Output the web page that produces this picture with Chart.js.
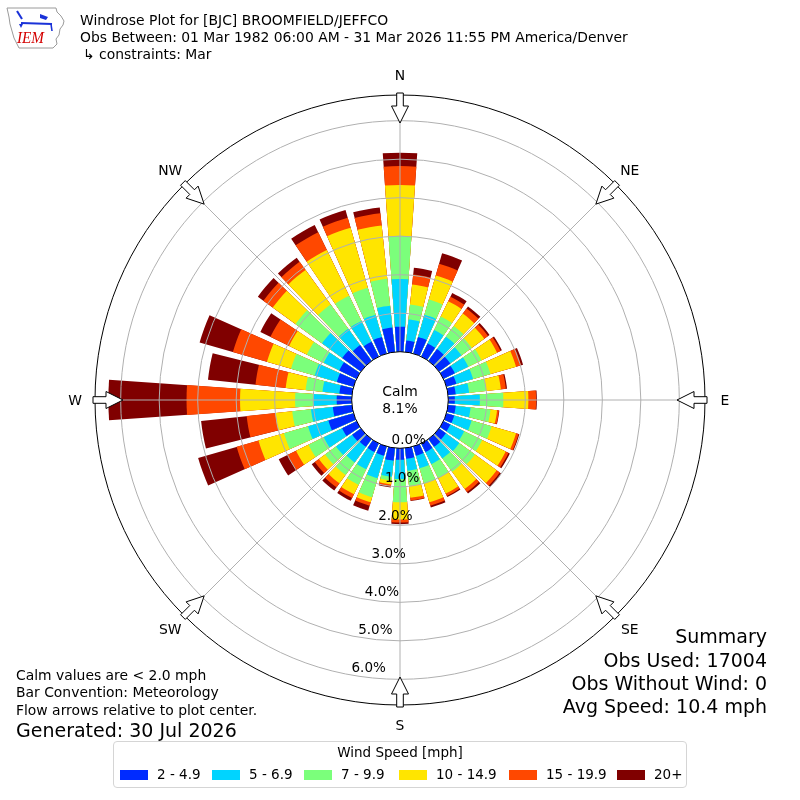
<!DOCTYPE html>
<html>
<head>
<meta charset="utf-8">
<script src="https://cdn.jsdelivr.net/npm/chart.js@4.4.1/dist/chart.umd.min.js"></script>
<style>
html,body{margin:0;padding:0;background:#fff;}
#wrap{position:relative;width:800px;height:800px;overflow:hidden;font-family:"DejaVu Sans",sans-serif;color:#000;}
#wrap canvas{position:absolute;left:0;top:0;}
.t{position:absolute;white-space:nowrap;line-height:1.164;}
.s14{font-size:13.9px;}
.s13{font-size:13.5px;}
.s19{font-size:19px;}
.r{text-align:right;}
#legend{position:absolute;left:113px;top:741px;width:572px;height:45px;border:1px solid #d5d5d5;border-radius:4px;}
.sw{position:absolute;width:28px;height:10px;}
</style>
</head>
<body>
<div id="wrap">
<canvas id="c" width="800" height="800"></canvas>

<svg style="position:absolute;left:0;top:0" width="70" height="55" viewBox="0 0 70 55">
  <path d="M7,8 L56,8 L57,12 L61,16 L64,21 L63,25 L60,29 L59,35 L56,39 L57,44 L53,48 L19,48 L17,44 L14,38 L12,31 L10,24 L9,17 Z" fill="none" stroke="#9a9a9a" stroke-width="1"/>
  <g stroke="#1a32d8" fill="#1a32d8">
    <line x1="21" y1="23" x2="52" y2="24" stroke-width="2.2"/>
    <line x1="17" y1="11" x2="22" y2="19" stroke-width="2"/>
    <polygon points="40,14 48,17 46,20 40,18" stroke="none"/>
    <polygon points="19,24 23,24 21,28" stroke="none"/>
    <line x1="51" y1="24" x2="52" y2="31" stroke-width="1.6"/>
  </g>
  <text x="17" y="43" font-family="Liberation Serif, serif" font-style="italic" font-size="17" fill="#d40000" textLength="27" lengthAdjust="spacingAndGlyphs">IEM</text>
</svg>

<div class="t s14" style="left:80px;top:12px;">Windrose Plot for [BJC] BROOMFIELD/JEFFCO</div>
<div class="t s14" style="left:80px;top:28.6px;">Obs Between: 01 Mar 1982 06:00 AM - 31 Mar 2026 11:55 PM America/Denver</div>
<div class="t s14" style="left:83px;top:45.6px;">↳ constraints: Mar</div>

<div class="t s14" style="left:16px;top:667px;">Calm values are &lt; 2.0 mph</div>
<div class="t s14" style="left:16px;top:684px;">Bar Convention: Meteorology</div>
<div class="t s14" style="left:16px;top:702px;">Flow arrows relative to plot center.</div>
<div class="t s19" style="left:16px;top:718.8px;">Generated: 30 Jul 2026</div>

<div class="t s19 r" style="right:33px;top:624.8px;">Summary</div>
<div class="t s19 r" style="right:33px;top:648.8px;">Obs Used: 17004</div>
<div class="t s19 r" style="right:33px;top:671.8px;">Obs Without Wind: 0</div>
<div class="t s19 r" style="right:33px;top:694.8px;">Avg Speed: 10.4 mph</div>

<div id="legend"></div>
</div>

<script>
// ---------------- data ----------------
const directions = [0,10,20,30,40,50,60,70,80,90,100,110,120,130,140,150,160,170,
                    180,190,200,210,220,230,240,250,260,270,280,290,300,310,320,330,340,350];
const speedBins = ['2 - 4.9','5 - 6.9','7 - 9.9','10 - 14.9','15 - 19.9','20+'];
// frequency (%) per direction for each speed bin
const bin2to5 = [0.65,0.30,0.45,0.38,0.38,0.36,0.33,0.27,0.20,0.17,0.20,0.21,0.20,0.22,0.25,0.25,0.25,0.28,
                 0.30,0.33,0.25,0.25,0.25,0.28,0.42,0.68,0.50,0.39,0.33,0.45,0.50,0.60,0.51,0.43,0.45,0.64];
const bin5to7 = [1.24,0.55,0.60,0.39,0.40,0.36,0.39,0.45,0.35,0.65,0.39,0.47,0.40,0.43,0.37,0.35,0.34,0.31,
                 0.50,0.42,0.61,0.50,0.50,0.52,0.53,0.55,0.57,0.61,0.44,0.60,0.45,0.65,0.52,0.60,0.60,0.57];
const bin7to10 = [1.12,0.39,0.41,0.39,0.34,0.33,0.38,0.47,0.44,0.61,0.52,0.54,0.52,0.50,0.43,0.40,0.41,0.40,
                  0.60,0.10,0.51,0.45,0.40,0.35,0.44,0.65,0.49,0.47,0.44,0.64,0.49,0.85,0.78,0.73,0.73,0.70];
const bin10to15 = [1.32,0.52,0.65,0.44,0.40,0.40,0.45,0.69,0.39,0.65,0.17,0.66,0.68,0.70,0.55,0.45,0.51,0.31,
                   0.45,0.10,0.14,0.27,0.27,0.20,0.36,0.69,0.44,1.43,0.52,0.65,0.51,0.73,1.11,1.32,1.62,1.39];
const bin15to20 = [0.49,0.26,0.32,0.13,0.16,0.12,0.10,0.14,0.13,0.20,0.05,0.07,0.08,0.10,0.10,0.07,0.09,0.07,
                   0.08,0.05,0.09,0.11,0.13,0.13,0.25,0.59,0.75,1.39,0.79,0.92,0.54,0.30,0.26,0.51,0.27,0.32];
const bin20plus = [0.35,0.18,0.28,0.11,0.07,0.05,0.04,0.05,0.03,0.02,0.01,0.02,0.04,0.05,0.05,0.03,0.05,0.01,
                   0.04,0.03,0.14,0.08,0.10,0.10,0.25,1.04,1.19,2.03,1.24,0.90,0.29,0.18,0.13,0.21,0.21,0.15];
const binValues = [bin2to5, bin5to7, bin7to10, bin10to15, bin15to20, bin20plus];
const ringValues = [0,1,2,3,4,5,6];
const ringLabels = ['0.0%','1.0%','2.0%','3.0%','4.0%','5.0%','6.0%'];
const compassLabels = ['N','NE','E','SE','S','SW','W','NW'];
const calmPercent = 8.1;

// ---------------- styles ----------------
const binColors = ['#002bff','#00d4ff','#7bff7b','#ffe500','#ff4800','#800000'];
const FONT = '"DejaVu Sans", sans-serif';

// cumulative (stacked) values
const cumulative = [];
binValues.forEach((arr, k) => {
  cumulative.push(arr.map((v, i) => (k ? cumulative[k-1][i] : 0) + v));
});

// each direction: a bar sector followed by a gap sector
const labels = directions.flatMap(d => [String(d), '']);
const datasets = cumulative.map((cum, k) => ({
  label: speedBins[k],
  data: cum.flatMap(v => [v, 0]),
  backgroundColor: ctx => (ctx.dataIndex % 2 ? 'rgba(0,0,0,0)' : binColors[k]),
  borderWidth: 0,
  angle: ctx => (ctx.dataIndex % 2 ? 2 : 8)
}));

const decor = {
  id: 'windroseDecor',
  afterDatasetsDraw(chart) {
    const s = chart.scales.r;
    const ctx = chart.ctx;
    const cx = s.xCenter, cy = s.yCenter, R = s.drawingArea;
    const r0 = s.getDistanceFromCenterForValue(0);
    const rad = d => d * Math.PI / 180;
    ctx.save();
    // rings
    ctx.strokeStyle = '#b0b0b0';
    ctx.lineWidth = 1;
    ringValues.forEach(v => {
      if (v === 0) return;
      ctx.beginPath();
      ctx.arc(cx, cy, s.getDistanceFromCenterForValue(v), 0, Math.PI * 2);
      ctx.stroke();
    });
    // spokes
    for (let k = 0; k < 8; k++) {
      const a = rad(k * 45);
      ctx.beginPath();
      ctx.moveTo(cx, cy);
      ctx.lineTo(cx + R * Math.sin(a), cy - R * Math.cos(a));
      ctx.stroke();
    }
    // outer circle
    ctx.strokeStyle = '#000';
    ctx.beginPath();
    ctx.arc(cx, cy, R, 0, Math.PI * 2);
    ctx.stroke();
    // calm circle
    ctx.fillStyle = '#fff';
    ctx.beginPath();
    ctx.arc(cx, cy, r0, 0, Math.PI * 2);
    ctx.fill();
    ctx.stroke();
    // calm text
    ctx.fillStyle = '#000';
    ctx.font = '13.9px ' + FONT;
    ctx.textAlign = 'center';
    ctx.textBaseline = 'alphabetic';
    ctx.fillText('Calm', cx, cy - 4);
    ctx.fillText(calmPercent.toFixed(1) + '%', cx, cy + 12.5);
    // ring labels (placed at bearing 190 deg)
    ctx.font = '13.5px ' + FONT;
    ctx.textAlign = 'left';
    ctx.textBaseline = 'bottom';
    const la = rad(190);
    ringValues.forEach((v, i) => {
      const rr = s.getDistanceFromCenterForValue(v);
      ctx.fillText(ringLabels[i], cx + rr * Math.sin(la), cy - rr * Math.cos(la));
    });
    // compass labels
    ctx.font = '13.9px ' + FONT;
    ctx.textAlign = 'center';
    ctx.textBaseline = 'middle';
    compassLabels.forEach((t, k) => {
      const a = rad(k * 45);
      ctx.fillText(t, cx + (R + 20) * Math.sin(a), cy - (R + 20) * Math.cos(a) + 1);
    });
    // flow arrows
    ctx.lineWidth = 1;
    ctx.strokeStyle = '#000';
    ctx.fillStyle = '#fff';
    const shape = [[0,-3.3],[13,-3.3],[13,-8.5],[30,0],[13,8.5],[13,3.3],[0,3.3]];
    compassLabels.forEach((t, k) => {
      const a = rad(k * 45);
      const ox = Math.sin(a), oy = -Math.cos(a);      // outward unit
      const ix = -ox, iy = -oy;                         // inward unit
      const px = -iy, py = ix;                          // perpendicular
      const tx = cx + ox * (R + 2), ty = cy + oy * (R + 2);
      ctx.beginPath();
      shape.forEach(([u, w], j) => {
        const x = tx + ix * u + px * w, y = ty + iy * u + py * w;
        if (j) ctx.lineTo(x, y); else ctx.moveTo(x, y);
      });
      ctx.closePath();
      ctx.fill();
      ctx.stroke();
    });
    ctx.restore();
  }
};

new Chart(document.getElementById('c'), {
  type: 'polarArea',
  data: { labels, datasets },
  options: {
    responsive: false,
    animation: false,
    devicePixelRatio: 1,
    layout: { padding: { left: 95, right: 95, top: 95, bottom: 95 } },
    elements: { arc: { borderWidth: 0 } },
    scales: {
      r: {
        min: -1.2545,
        max: 6.667,
        startAngle: -4,
        ticks: { display: false },
        grid: { display: false },
        angleLines: { display: false },
        pointLabels: { display: false }
      }
    },
    plugins: { legend: { display: false }, tooltip: { enabled: false } }
  },
  plugins: [decor]
});

// legend (HTML)
const legend = document.getElementById('legend');
const swLeft = [6, 98, 190, 285, 395, 503];
const title = document.createElement('div');
title.className = 't s13';
title.style.cssText = 'left:0;width:572px;text-align:center;top:2.5px;';
title.textContent = 'Wind Speed [mph]';
legend.appendChild(title);
speedBins.forEach((lab, k) => {
  const sw = document.createElement('div');
  sw.className = 'sw';
  sw.style.left = swLeft[k] + 'px';
  sw.style.top = '27.5px';
  sw.style.background = binColors[k];
  legend.appendChild(sw);
  const tx = document.createElement('div');
  tx.className = 't s13';
  tx.style.left = (swLeft[k] + 37) + 'px';
  tx.style.top = '24.5px';
  tx.textContent = lab;
  legend.appendChild(tx);
});
</script>
</body>
</html>
